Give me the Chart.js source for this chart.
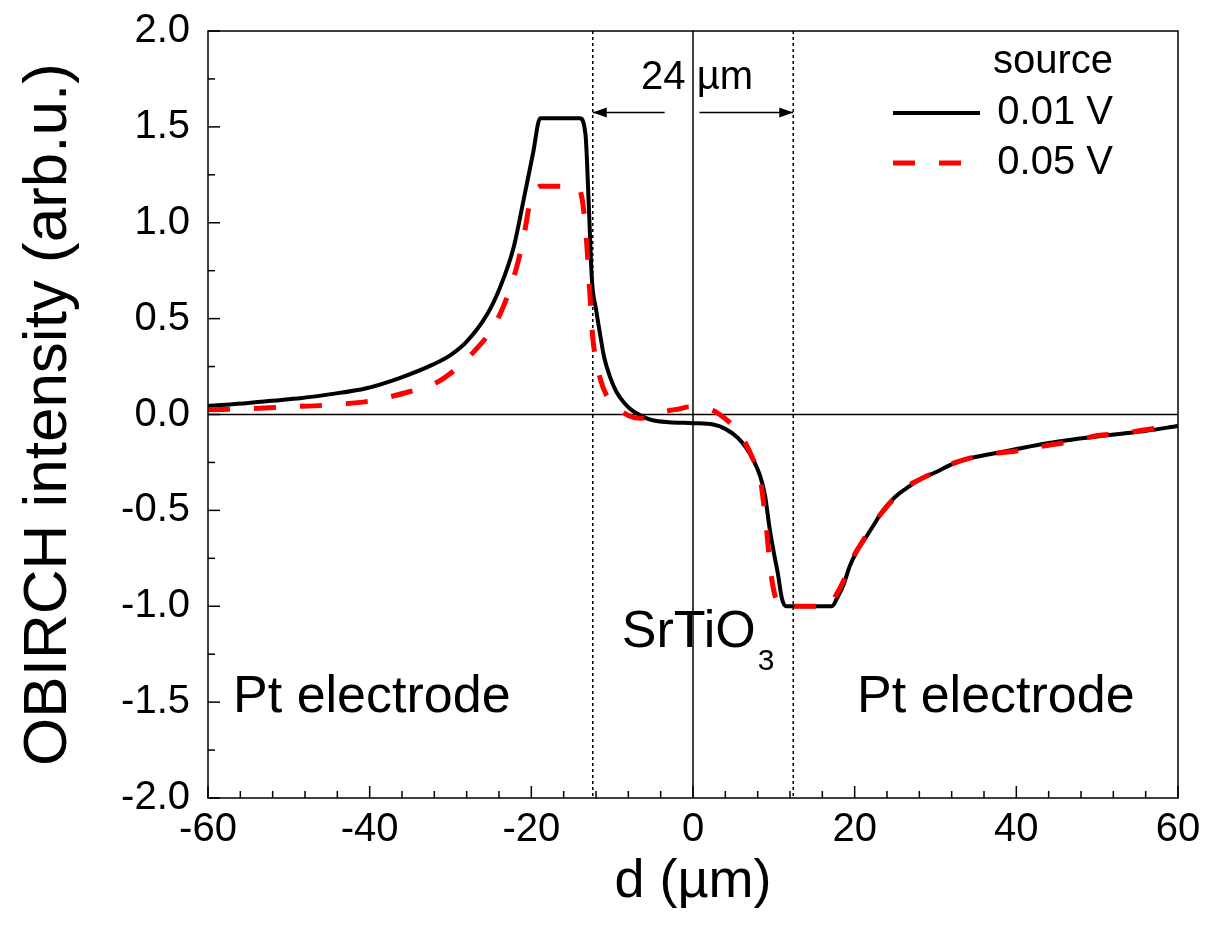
<!DOCTYPE html>
<html>
<head>
<meta charset="utf-8">
<script src="https://cdn.jsdelivr.net/npm/chart.js@4.4.1/dist/chart.umd.min.js"></script>
<style>
  body { margin: 0; background: #fff; }
  #wrap { width: 1207px; height: 941px; }
</style>
</head>
<body>
<div id="wrap"><canvas id="obirch" width="1207" height="941"></canvas></div>
<script>
'use strict';

const FONT = '"Liberation Sans", Arial, Helvetica, sans-serif';

// 0.01 V source, black solid
const dLow = [-60, -55, -50, -48.6, -45, -40.4, -36.3, -32.2, -30, -28, -25.5, -23.9, -22.2, -21, -19.8, -18.9,
    -14, -13.3, -12.9, -12.5, -12, -11.5, -11, -10.3, -9.5, -8.5, -7.5, -6, -5, -3, 0, 2.5, 4, 5.5, 6.6, 7.5,
    8.3, 8.9, 9.5, 10, 10.5, 11, 11.5, 17.2, 17.8, 18.6, 19.4, 20.2, 21.1, 22.3, 23.5, 25, 26.4, 28, 30.1, 32,
    34.3, 37, 39.6, 43.8, 47, 50, 53, 56.1, 60];
const vLow = [0.045, 0.06, 0.08, 0.085, 0.105, 0.137, 0.19, 0.26, 0.31, 0.38, 0.52, 0.66, 0.87, 1.11, 1.36, 1.545,
    1.545, 1.46, 1.1, 0.7, 0.55, 0.42, 0.3, 0.2, 0.12, 0.06, 0.02, -0.015, -0.03, -0.04, -0.045, -0.052, -0.075, -0.12, -0.175, -0.24,
    -0.32, -0.42, -0.6, -0.72, -0.83, -0.96, -1.0, -1.0, -0.96, -0.89, -0.79, -0.72, -0.66, -0.58, -0.5, -0.43, -0.385, -0.34, -0.3, -0.26,
    -0.228, -0.205, -0.184, -0.15, -0.13, -0.115, -0.1, -0.085, -0.06];

// 0.05 V source, red dashed
const dHigh = [-60, -55, -50, -45, -40, -35, -32, -29.7, -27.5, -25.1, -23.8, -22.6, -21.5, -20.8, -20.2, -19.5, -18.9,
    -14.4, -13.7, -13.2, -12.8, -12.4, -11.9, -11.5, -10.7, -9.5, -8, -6.6, -5, -3.5, -1.6, -0.4, 1, 2.5, 3.3, 4.5,
    5.4, 6.5, 7.4, 8.3, 8.7, 9.1, 9.5, 10, 10.8, 17, 17.6, 18.6, 19.5, 21, 22.5, 24, 26, 28, 30, 32.5, 35, 38, 40,
    44, 47, 50, 53, 56, 60];
const vHigh = [0.025, 0.03, 0.04, 0.05, 0.07, 0.12, 0.16, 0.224, 0.31, 0.43, 0.53, 0.66, 0.82, 0.96, 1.1, 1.17, 1.19,
    1.19, 1.12, 0.92, 0.66, 0.4, 0.27, 0.19, 0.1, 0.04, -0.005, -0.02, -0.01, 0.015, 0.03, 0.04, 0.035, 0.02, 0.0, -0.04,
    -0.08, -0.15, -0.23, -0.33, -0.45, -0.6, -0.78, -0.92, -1.0, -1.0, -0.95, -0.87, -0.77, -0.66, -0.56, -0.48, -0.39, -0.34, -0.3, -0.25, -0.22, -0.2, -0.19,
    -0.16, -0.14, -0.11, -0.1, -0.08, -0.055];

const seriesLabels = ['0.01 V', '0.05 V'];
const legendTitle = 'source';
const xRange = [-60, 60];
const yRange = [-2, 2];
const xStep = 20;
const yStep = 0.5;
const electrodeEdges = [-12.4, 12.4];

let toPoints = (xs, ys) => xs.map((v, i) => ({x: v, y: ys[i]}));

let line = (ctx, x0, y0, x1, y1) => {
    ctx.beginPath();
    ctx.moveTo(x0, y0);
    ctx.lineTo(x1, y1);
    ctx.stroke();
};

let arrow = (ctx, from, to, yy) => {
    line(ctx, from, yy, to, yy);
    const dir = Math.sign(to - from);
    ctx.beginPath();
    ctx.moveTo(to, yy);
    ctx.lineTo(to - dir * 14, yy - 5);
    ctx.lineTo(to - dir * 14, yy + 5);
    ctx.closePath();
    ctx.fill();
};

const decor = {
    id: 'decor',
    beforeDatasetsDraw(chart) {
        const {ctx, chartArea: a, scales: {x, y}} = chart;
        ctx.save();
        ctx.strokeStyle = '#000';
        ctx.lineWidth = 1.5;
        // zero lines
        line(ctx, a.left, y.getPixelForValue(0), a.right, y.getPixelForValue(0));
        line(ctx, x.getPixelForValue(0), a.top, x.getPixelForValue(0), a.bottom);
        // electrode edges
        ctx.setLineDash([3, 3]);
        electrodeEdges.forEach(e => line(ctx, x.getPixelForValue(e), a.top, x.getPixelForValue(e), a.bottom));
        ctx.restore();
    },
    afterDatasetsDraw(chart) {
        const {ctx, chartArea: a, scales: {x, y}} = chart;
        ctx.save();
        ctx.strokeStyle = '#000';
        ctx.fillStyle = '#000';
        ctx.lineWidth = 1.5;
        ctx.strokeRect(a.left, a.top, a.width, a.height);

        // inner ticks
        for (let i = 0; i <= 30; i++) {
            const v = xRange[0] + 4 * i;
            const px = x.getPixelForValue(v);
            line(ctx, px, a.bottom, px, a.bottom - (v % 20 === 0 ? 12 : 7));
        }
        for (let i = 0; i <= 16; i++) {
            const py = y.getPixelForValue(yRange[0] + 0.25 * i);
            line(ctx, a.left, py, a.left + (i % 2 === 0 ? 12 : 7), py);
        }

        // 24 um marker
        ctx.font = '40px ' + FONT;
        ctx.textAlign = 'center';
        ctx.textBaseline = 'alphabetic';
        ctx.fillText('24 µm', x.getPixelForValue(0.5), y.getPixelForValue(1.695));
        const ay = y.getPixelForValue(1.575);
        arrow(ctx, x.getPixelForValue(-3.5), x.getPixelForValue(electrodeEdges[0]), ay);
        arrow(ctx, x.getPixelForValue(0.8), x.getPixelForValue(electrodeEdges[1]), ay);

        // region labels
        ctx.textAlign = 'left';
        ctx.font = '52px ' + FONT;
        const sx = x.getPixelForValue(-8.8);
        const sy = y.getPixelForValue(-1.21);
        ctx.fillText('SrTiO', sx, sy);
        const sw = ctx.measureText('SrTiO').width;
        ctx.font = '30px ' + FONT;
        ctx.fillText('3', sx + sw + 2, y.getPixelForValue(-1.33));
        ctx.font = '52px ' + FONT;
        ctx.fillText('Pt electrode', x.getPixelForValue(-56.9), y.getPixelForValue(-1.55));
        ctx.fillText('Pt electrode', x.getPixelForValue(20.3), y.getPixelForValue(-1.55));

        // legend
        const ds = chart.data.datasets;
        const right = a.right - 65;
        ctx.font = '40px ' + FONT;
        ctx.textAlign = 'right';
        ctx.textBaseline = 'middle';
        ctx.fillText(legendTitle, right, a.top + 31);
        ds.forEach((d, i) => {
            const ly = a.top + 82 + i * 50;
            ctx.fillText(d.label, right, ly);
            ctx.save();
            ctx.strokeStyle = d.borderColor;
            ctx.lineWidth = d.borderWidth;
            ctx.setLineDash(d.borderDash || []);
            line(ctx, a.right - 285, ly, a.right - 198, ly);
            ctx.restore();
        });
        ctx.restore();
    }
};

new Chart(document.getElementById('obirch'), {
    type: 'line',
    data: {
        datasets: [
            {
                label: seriesLabels[0],
                data: toPoints(dLow, vLow),
                borderColor: '#000000',
                borderWidth: 4,
                pointRadius: 0,
                cubicInterpolationMode: 'monotone',
                order: 1
            },
            {
                label: seriesLabels[1],
                data: toPoints(dHigh, vHigh),
                borderColor: '#ff0000',
                borderWidth: 5,
                borderDash: [22, 24],
                pointRadius: 0,
                cubicInterpolationMode: 'monotone',
                order: 0
            }
        ]
    },
    options: {
        responsive: false,
        animation: false,
        devicePixelRatio: 1,
        layout: {
            padding: {top: 31, right: 29, bottom: 0, left: 0}
        },
        scales: {
            x: {
                type: 'linear',
                min: xRange[0],
                max: xRange[1],
                grid: {display: false, drawTicks: false},
                border: {display: false},
                ticks: {
                    stepSize: xStep,
                    autoSkip: false,
                    maxRotation: 0,
                    padding: 8,
                    color: '#000',
                    font: {family: FONT, size: 40}
                },
                title: {
                    display: true,
                    text: 'd (µm)',
                    color: '#000',
                    font: {family: FONT, size: 54},
                    padding: {top: 0, bottom: 26}
                },
                afterFit: (scale) => {
                    scale.height = 143;
                    scale.paddingLeft = 0;
                    scale.paddingRight = 0;
                }
            },
            y: {
                type: 'linear',
                min: yRange[0],
                max: yRange[1],
                grid: {display: false, drawTicks: false},
                border: {display: false},
                ticks: {
                    stepSize: yStep,
                    padding: 18,
                    color: '#000',
                    font: {family: FONT, size: 40},
                    callback: (v) => v.toFixed(1)
                },
                title: {
                    display: true,
                    text: 'OBIRCH intensity (arb.u.)',
                    color: '#000',
                    font: {family: FONT, size: 62},
                    padding: {top: 12, bottom: 0}
                },
                afterFit: (scale) => {
                    scale.width = 208;
                    scale.paddingTop = 0;
                    scale.paddingBottom = 0;
                }
            }
        },
        plugins: {
            legend: {display: false},
            tooltip: {enabled: false}
        }
    },
    plugins: [decor]
});
</script>
</body>
</html>
